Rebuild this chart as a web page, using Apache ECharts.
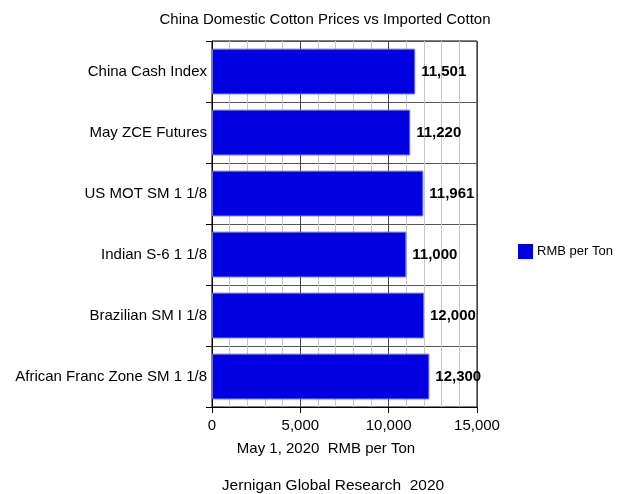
<!DOCTYPE html>
<html>
<head>
<meta charset="utf-8">
<script src="https://cdn.jsdelivr.net/npm/echarts@6/dist/echarts.min.js"></script>
<style>
  html, body { margin: 0; padding: 0; background: #fff; }
  #chart { width: 623px; height: 494px; }
</style>
</head>
<body>
<div id="chart"></div>
<script>
// Cotton price comparison, RMB per ton
const categories = [
  'China Cash Index',
  'May ZCE Futures',
  'US MOT SM 1 1/8',
  'Indian S-6 1 1/8',
  'Brazilian SM I 1/8',
  'African Franc Zone SM 1 1/8'
];
const prices = [11501, 11220, 11961, 11000, 12000, 12300];
const seriesName = 'RMB per Ton';
const xTicks = [0, 5000, 10000, 15000];

const font = 'Liberation Sans, Arial, sans-serif';
const fmt = v => v.toLocaleString('en-US');
const plain = { fontSize: 15, fontWeight: 'normal', color: '#000', fontFamily: font };

const chart = echarts.init(document.getElementById('chart'), null, { renderer: 'canvas' });
chart.setOption({
  animation: false,
  backgroundColor: '#ffffff',
  textStyle: { fontFamily: font },
  title: [
    { text: 'China Domestic Cotton Prices vs Imported Cotton', left: 325, top: 12, textAlign: 'center', padding: 0, textStyle: plain },
    { text: 'May 1, 2020  RMB per Ton', left: 326, top: 441, textAlign: 'center', padding: 0, textStyle: plain },
    { text: 'Jernigan Global Research  2020', left: 333, top: 478, textAlign: 'center', padding: 0,
      textStyle: Object.assign({}, plain, { fontSize: 15.5 }) }
  ],
  legend: {
    data: [seriesName],
    left: 518, top: 244, padding: 0,
    itemWidth: 15, itemHeight: 15, itemGap: 6,
    icon: 'rect',
    itemStyle: { borderWidth: 0 },
    textStyle: { fontSize: 13, color: '#000', fontFamily: font, padding: [4, 0, 0, -1] }
  },
  grid: {
    left: 212, right: 146, top: 41, bottom: 87,
    show: true, borderColor: '#000', borderWidth: 1
  },
  xAxis: {
    type: 'value',
    min: xTicks[0], max: xTicks[xTicks.length - 1], interval: 5000,
    axisLine: { show: true, lineStyle: { color: '#000' } },
    axisTick: { show: true, length: 6, lineStyle: { color: '#000' } },
    axisLabel: { fontSize: 15, color: '#000', margin: 11, formatter: v => fmt(v) },
    splitLine: { show: true, lineStyle: { color: '#444', width: 1 } },
    minorTick: { show: false, splitNumber: 5 },
    minorSplitLine: { show: true, lineStyle: { color: '#c8c8c8', width: 1 } }
  },
  yAxis: {
    type: 'category',
    inverse: true,
    data: categories,
    axisLine: { show: true, lineStyle: { color: '#000' } },
    axisTick: { show: true, length: 6, lineStyle: { color: '#000' } },
    axisLabel: { fontSize: 15, color: '#000', margin: 5, padding: [2, 0, 0, 0] },
    splitLine: { show: true, lineStyle: { color: '#555', width: 1 } }
  },
  series: [{
    name: seriesName,
    type: 'bar',
    data: prices,
    barWidth: '75%',
    itemStyle: { color: '#0000e0', borderColor: '#6a6aff', borderWidth: 1 },
    label: {
      show: true, position: 'right', distance: 6,
      fontSize: 15, fontWeight: 'bold', color: '#000', fontFamily: font,
      padding: [3, 0, 0, 0],
      formatter: p => fmt(p.value)
    }
  }]
});
</script>
</body>
</html>
